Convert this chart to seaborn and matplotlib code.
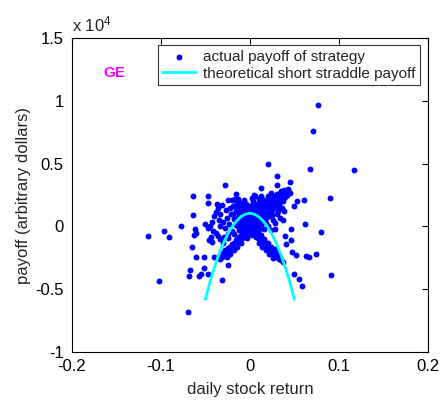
import matplotlib
matplotlib.use("Agg")
import matplotlib.pyplot as plt
from matplotlib.ticker import FuncFormatter, FixedLocator
import seaborn as sns
import pandas as pd

# Daily stock returns and realised payoff of the short-straddle strategy (GE)
far_ret = [0.077, 0.071, 0.020, 0.068, 0.031, 0.045, 0.031, -0.028, 0.012, 0.043,
           -0.064, -0.047, -0.016, 0.005, 0.090, -0.047, -0.037, -0.013, 0.053, 0.061,
           0.050, -0.064, 0.038, -0.077, -0.097, -0.114, -0.091, -0.062, -0.060, -0.063,
           -0.047, 0.037, 0.062, 0.046, 0.080, 0.040, 0.028, -0.065, -0.061, -0.052,
           -0.040, -0.035, -0.025, -0.067, -0.068, -0.057, -0.055, -0.052, -0.047, -0.102,
           -0.031, -0.069, 0.031, 0.047, 0.052, 0.063, 0.067, 0.074, 0.050, 0.055,
           0.059, 0.091, 0.037, 0.041, 0.046, 0.117]
far_pay = [9660, 7590, 4990, 4560, 4040, 3560, 3340, 3320, 3100, 2920,
           2390, 2390, 2600, 2490, 2290, 1860, 1780, 2170, 2010, 2070,
           1670, 930, 1270, 0, -320, -740, -850, -180, -530, -640,
           -100, 530, 220, -220, -420, -740, -220, -1650, -2390, -2390,
           -2440, -2440, -3030, -3450, -3960, -3960, -3770, -3340, -3770, -4380,
           -4300, -6770, -2390, -2050, -2310, -2360, -2390, -2170, -3820, -4200,
           -4700, -3850, -2810, -1380, -1110, 4460]

core_ret = [0.000, 0.002, -0.002, 0.004, -0.004, 0.001, -0.001, 0.003, -0.003, 0.005,
            -0.005, 0.006, -0.006, 0.007, -0.007, 0.008, -0.008, 0.009, -0.009, 0.002,
            -0.002, 0.004, -0.004, 0.006, -0.006, 0.001, -0.001, 0.003, -0.003, 0.000,
            0.005, -0.005, 0.010, -0.010, 0.011, -0.011, 0.012, -0.012, 0.008, -0.008,
            0.000, 0.003, -0.003, 0.010, -0.010, 0.013, -0.013, 0.001, -0.001, 0.002,
            -0.002,
            -0.014, -0.011, -0.009, -0.006, -0.003, 0.000, 0.003, 0.006, 0.009, 0.012,
            0.015, 0.018, -0.013, -0.010, -0.007, -0.004, -0.001, 0.002, 0.005, 0.008,
            0.011, 0.014, 0.017, 0.020, -0.012, -0.008, -0.004, 0.000, 0.004, 0.008,
            0.012, 0.016, -0.006, -0.002, 0.002, 0.006, 0.010, 0.014,
            -0.011, -0.008, -0.005, -0.002, 0.001, 0.004, 0.007, 0.010, 0.013, 0.016,
            0.019, 0.022, -0.009, -0.006, -0.003, 0.000, 0.003, 0.006, 0.009, 0.012,
            0.015, 0.018, 0.021, 0.007, 0.011, 0.015, -0.007, -0.001, 0.005, 0.009]
core_pay = [800, 600, 700, 900, 500, 300, 200, 100, 0, 400,
            300, 700, 900, 1100, 1200, 600, 400, 200, 100, -200,
            -300, -100, -400, -300, -200, 1000, 1100, 1200, 1300, 1400,
            1300, 1500, 800, 700, 500, 300, 1000, 1100, -600, -700,
            -500, -700, -900, -200, -100, 200, 0, 500, 600, 1700,
            1600,
            1400, 1300, 1000, 400, 1000, 1200, 1500, 1000, 1300, 1300,
            1100, 1600, 700, 1600, 100, 1300, 900, 1200, 600, 1400,
            1100, 1800, 1400, 2000, 200, 1000, 800, 0, 300, 100,
            200, 900, -500, -600, -400, -200, 600, 400,
            900, 1200, 800, 1000, 700, 1100, 400, 1000, 700, 1200,
            1000, 1400, 500, 600, 500, 300, 900, 100, 500, 1500,
            1300, 900, 1200, 1500, 1200, 1600, -300, -100, -500, -400]

up_right_ret = [0.014, 0.016, 0.018, 0.015, 0.020, 0.022, 0.019, 0.024, 0.026, 0.023,
                0.028, 0.030, 0.027, 0.032, 0.034, 0.031, 0.036, 0.038, 0.035, 0.040,
                0.042, 0.013, 0.017, 0.021, 0.025, 0.029, 0.033, 0.037, 0.018, 0.012,
                0.016, 0.020, 0.024, 0.011, 0.025, 0.033, 0.043, 0.045,
                0.015, 0.018, 0.022, 0.026, 0.030, 0.034, 0.028, 0.020, 0.024, 0.032,
                0.036, 0.016,
                0.019, 0.023, 0.027, 0.031, 0.035, 0.039, 0.021, 0.025, 0.029, 0.033,
                0.037, 0.041,
                0.022, 0.026, 0.030, 0.034, 0.038, 0.028, 0.032, 0.036]
up_right_pay = [1300, 1500, 1200, 1800, 1700, 1500, 2000, 1900, 1700, 2200,
                2100, 1900, 2400, 2300, 2100, 2600, 2500, 2300, 2800, 2700,
                2500, 900, 1000, 1100, 1300, 1600, 1800, 2000, 700, 1600,
                2100, 2400, 2700, 1900, 900, 1400, 3000, 2700,
                600, 300, 800, 500, 1000, 700, 300, 0, -300, 1200,
                1500, -200,
                1400, 1700, 2000, 2200, 2400, 2600, 1900, 2100, 1800, 2000,
                2700, 2400,
                1800, 1500, 2200, 2500, 2900, 2300, 2600, 2100]

left_ret = [-0.038, -0.033, -0.042, -0.024, -0.019, -0.012, -0.008, -0.015, -0.021, -0.026,
            -0.030, -0.034, -0.028, -0.023, -0.018, -0.012, -0.010, -0.016, -0.020, -0.025,
            -0.029, -0.036, -0.041, -0.045, -0.035, -0.040, -0.038, -0.044, -0.046, -0.042,
            -0.033, -0.030, -0.027, -0.022, -0.017, -0.019, -0.015, -0.012, -0.018, -0.024,
            -0.050, -0.036, -0.031, -0.004, -0.008, -0.010, -0.014, -0.006, -0.020, -0.013,
            -0.016, 0.004, 0.008, 0.010, 0.006, 0.003, 0.012]
left_pay = [1140, 1010, 340, 2070, 1670, 1830, 1510, 1270, 960, 640,
            320, 0, -160, 160, 560, 880, 480, 80, -320, -560,
            -800, -720, -320, 0, 500, 800, -500, -800, -1100, -1200,
            -1000, -1300, 1300, 1500, 2200, 1000, 600, -300, -600, -900,
            200, 1500, 1700, 1800, 1700, 1900, 2000, 2100, 2100, 1500,
            1700, 2000, 1800, 2200, 2400, 2300, 2400]

down_left_ret = [-0.005, -0.007, -0.009, -0.011, -0.013, -0.015, -0.017, -0.019, -0.021, -0.023,
                 -0.025, -0.027, -0.029, -0.031, -0.033, -0.008, -0.012, -0.016, -0.020, -0.024,
                 -0.028, -0.014, -0.018, -0.010, -0.022, -0.026,
                 -0.006, -0.010, -0.014, -0.018, -0.022, -0.026, -0.030, -0.034]
down_left_pay = [-650, -800, -900, -1050, -1200, -1350, -1500, -1600, -1750, -1900,
                 -2050, -2200, -2300, -2450, -2600, -500, -800, -1100, -1400, -1700,
                 -1900, -1600, -1900, -1300, -2200, -2400,
                 -400, -700, -1000, -1300, -1600, -1900, -2100, -2400]

down_right_ret = [0.005, 0.007, 0.009, 0.011, 0.013, 0.015, 0.017, 0.019, 0.021, 0.023,
                  0.025, 0.027, 0.029, 0.031, 0.033, 0.035, 0.008, 0.012, 0.016, 0.020,
                  0.024, 0.028, 0.014, 0.018, 0.022, 0.026, 0.010,
                  0.006, 0.010, 0.014, 0.018, 0.022, 0.026, 0.030, 0.034]
down_right_pay = [-650, -800, -950, -1050, -1200, -1350, -1450, -1600, -1750, -1900,
                  -2000, -2150, -2300, -2450, -2550, -2700, -400, -700, -1000, -1300,
                  -1600, -1800, -1600, -1900, -2200, -2500, -1300,
                  -450, -750, -1050, -1350, -1650, -1950, -2150, -2450]

# Theoretical short straddle payoff
curve_ret = [-0.050, -0.045, -0.040, -0.035, -0.030, -0.025, -0.020, -0.015, -0.010, -0.005,
             0.000, 0.005, 0.010, 0.015, 0.020, 0.025, 0.030, 0.035, 0.040, 0.045, 0.050]
curve_pay = [-5800, -4450, -3300, -2250, -1380, -640, -30, 440, 780, 980,
             1050, 980, 780, 440, -30, -640, -1380, -2250, -3300, -4450, -5800]

x_ticks = [-0.2, -0.1, 0.0, 0.1, 0.2]
y_ticks = [-10000, -5000, 0, 5000, 10000, 15000]

groups = [(far_ret, far_pay), (core_ret, core_pay), (up_right_ret, up_right_pay),
          (left_ret, left_pay), (down_left_ret, down_left_pay),
          (down_right_ret, down_right_pay)]
rets, pays = [], []
for r, p in groups:
    assert len(r) == len(p)
    rets += r
    pays += p
obs = pd.DataFrame({"ret": rets, "payoff": pays})
theory = pd.DataFrame({"ret": curve_ret, "payoff": curve_pay})

sns.set_style("white")
plt.rcParams["font.family"] = ["Liberation Sans", "DejaVu Sans"]
plt.rcParams["mathtext.fontset"] = "custom"
plt.rcParams["mathtext.rm"] = "Liberation Sans"
plt.rcParams["mathtext.it"] = "Liberation Sans"

fig = plt.figure(figsize=(4.41, 4.01), dpi=100)
ax = fig.add_axes([0.163, 0.122, 0.807, 0.783])

sns.scatterplot(data=obs, x="ret", y="payoff", ax=ax, color=(0, 0, 1), s=18,
                linewidth=0, marker="o", label="actual payoff of strategy", zorder=2)
sns.lineplot(data=theory, x="ret", y="payoff", ax=ax, color=(0, 1, 1), lw=2,
             sort=False, estimator=None, label="theoretical short straddle payoff",
             zorder=3)

ax.set_xlim(-0.2, 0.2)
ax.set_ylim(-10000, 15000)
ax.xaxis.set_major_locator(FixedLocator(x_ticks))
ax.yaxis.set_major_locator(FixedLocator(y_ticks))
ax.xaxis.set_major_formatter(FuncFormatter(lambda v, p: f"{round(v, 3):g}"))
ax.yaxis.set_major_formatter(FuncFormatter(lambda v, p: f"{v / 1e4:g}"))
ax.tick_params(direction="in", top=True, right=True, length=4, width=0.8,
               labelsize=12, colors="black")
ax.tick_params(axis="y", pad=6)
ax.tick_params(axis="x", pad=5)
for s in ax.spines.values():
    s.set_color("black")
    s.set_linewidth(0.8)

ax.set_xlabel("daily stock return", fontsize=12, labelpad=6)
ax.set_ylabel("payoff (arbitrary dollars)", fontsize=12, labelpad=3)

ax.text(0.0, 1.012, r"x 10$^{4}$", transform=ax.transAxes, ha="left",
        va="bottom", fontsize=12)
ax.text(-0.152, 12200, "GE", color=(1, 0, 1), fontweight="bold", fontsize=11,
        ha="center", va="center")

leg = ax.legend(loc="upper right", bbox_to_anchor=(0.978, 0.978), borderaxespad=0,
                fontsize=11, frameon=True, fancybox=False, edgecolor="black",
                handlelength=2.2, handletextpad=0.45, borderpad=0.3, labelspacing=0.2)
leg.get_frame().set_linewidth(0.8)
for h in leg.legend_handles:
    if hasattr(h, "set_sizes"):
        h.set_sizes([18])

fig.savefig("out.png", dpi=100, facecolor="white")
